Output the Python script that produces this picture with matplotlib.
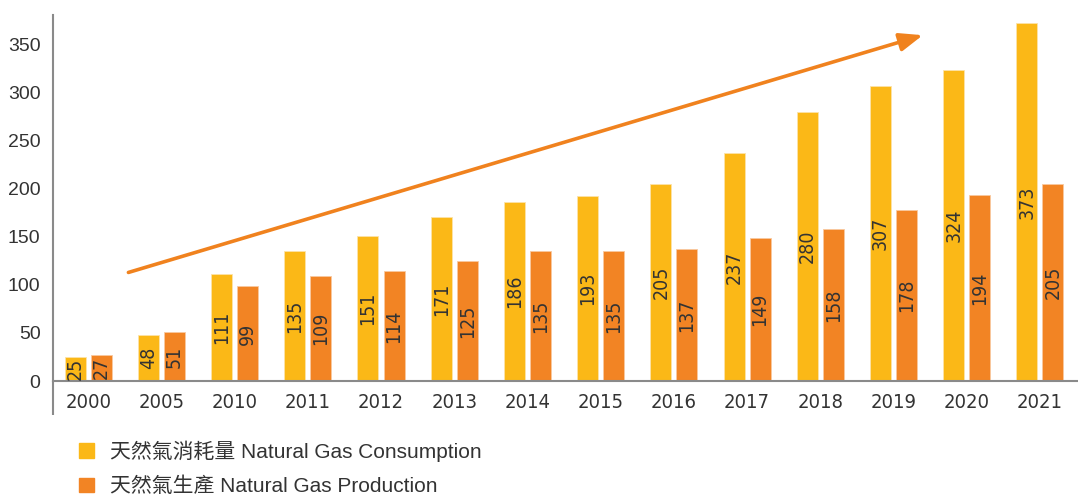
import numpy as np
import matplotlib.pyplot as plt
from matplotlib.patches import Patch

years = ['2000', '2005', '2010', '2011', '2012', '2013', '2014', '2015',
         '2016', '2017', '2018', '2019', '2020', '2021']
consumption = [25, 48, 111, 135, 151, 171, 186, 193, 205, 237, 280, 307, 324, 373]
production = [27, 51, 99, 109, 114, 125, 135, 135, 137, 149, 158, 178, 194, 205]
yticks = [0, 50, 100, 150, 200, 250, 300, 350]

label_cons = '天然氣消耗量 Natural Gas Consumption'
label_prod = '天然氣生產 Natural Gas Production'

# trend arrow ends (x in group index, y in value)
arrow_start = (0.55, 113)
arrow_end = (11.4, 360)

c_cons = '#FBB817'
c_prod = '#F28424'
c_text = '#333333'
c_axis = '#8a8a8a'

fig = plt.figure(figsize=(10.78, 4.95), dpi=100)
ax = fig.add_axes([53 / 1078, 1 - 381 / 495, 1 - 53 / 1078, 366 / 495])

x = np.arange(len(years))
w = 0.287
off = 0.178
b1 = ax.bar(x - off, consumption, w, color=c_cons, edgecolor='#fde3a8', linewidth=0.6)
b2 = ax.bar(x + off, production, w, color=c_prod, edgecolor='#f9c9a0', linewidth=0.6)

for rects, vals in ((b1, consumption), (b2, production)):
    for r, v in zip(rects, vals):
        ax.text(r.get_x() + r.get_width() / 2, v / 2, str(v), rotation=90,
                ha='center', va='center', fontsize=14, color=c_text,
                family='DejaVu Sans', stretch='condensed')

ax.set_xlim(-0.48, 13.52)
ax.set_ylim(0, 381)
ax.set_xticks(x)
ax.set_xticklabels(years, family='DejaVu Sans', stretch='condensed', fontsize=14.5, color=c_text)
ax.set_yticks(yticks)
ax.set_yticklabels([str(t) for t in yticks], family='Liberation Sans', fontsize=14, color=c_text)
ax.tick_params(length=0, pad=9)
ax.tick_params(axis='x', pad=9)

for s in ('top', 'right'):
    ax.spines[s].set_visible(False)
for s in ('left', 'bottom'):
    ax.spines[s].set_color(c_axis)
    ax.spines[s].set_linewidth(1.5)
ax.plot([0, 0], [-34 / 366, 0], transform=ax.transAxes, color=c_axis, lw=1.5,
        clip_on=False, solid_capstyle='butt')

ax.annotate('', xy=arrow_end, xytext=arrow_start,
            arrowprops=dict(arrowstyle='-|>,head_length=1.4,head_width=0.55',
                            color='#F0821E', lw=2.6, shrinkA=0, shrinkB=0))

handles = [Patch(color=c_cons, label=label_cons), Patch(color=c_prod, label=label_prod)]
fig.legend(handles=handles, loc='upper left', bbox_to_anchor=(0.066, 0.127),
           frameon=False, handlelength=0.7, handleheight=0.7, handletextpad=0.75,
           labelspacing=0.72, borderaxespad=0, labelcolor=c_text,
           prop={'family': ['Liberation Sans', 'Noto Sans CJK TC'], 'size': 15})

fig.savefig('out.png', dpi=100)
